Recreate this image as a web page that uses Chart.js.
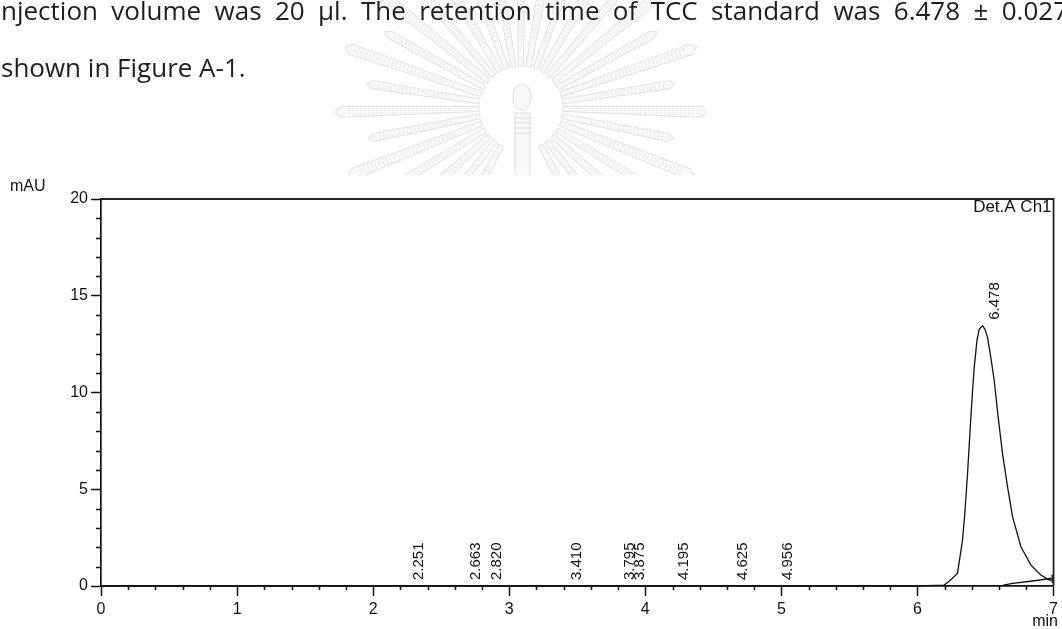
<!DOCTYPE html>
<html>
<head>
<meta charset="utf-8">
<script src="https://cdn.jsdelivr.net/npm/chart.js@4/dist/chart.umd.min.js"></script>
<style>
  html, body { margin: 0; padding: 0; background: #fff; }
  #wrap { width: 1062px; height: 629px; position: relative; }
  canvas { display: block; }
</style>
</head>
<body>
<div id="wrap"><canvas id="chromatogram" width="1062" height="629"></canvas></div>
<script>
// Chromatogram trace (time in min, signal in mAU)
const traceTime = [0, 1, 2, 3, 4, 5, 6, 6.196, 6.233, 6.294, 6.331, 6.348, 6.368, 6.388, 6.405, 6.417, 6.437, 6.454, 6.478,
                   6.495, 6.515, 6.539, 6.564, 6.593, 6.625, 6.662, 6.699, 6.760, 6.834, 6.907, 6.969, 7.0];
const traceSignal = [0, 0, 0, 0, 0, 0, 0, 0.05, 0.25, 0.65, 2.37, 3.75, 5.81, 8.21, 10.1, 11.3, 12.68, 13.28, 13.45,
                     13.28, 12.85, 11.82, 10.62, 8.73, 6.84, 5.12, 3.57, 2.03, 1.08, 0.57, 0.31, 0.3];

// Integration baseline under the tail of the main peak
const baseTime = [6.63, 6.70, 6.80, 6.90, 6.986];
const baseSignal = [0.05, 0.14, 0.22, 0.31, 0.4];

// Peak-end marker
const markTime = [6.99, 6.99];
const markSignal = [0.15, 0.6];

// Detected peaks: retention times and apex heights
const peakTimes = [2.251, 2.663, 2.820, 3.410, 3.795, 3.875, 4.195, 4.625, 4.956, 6.478];
const peakHeights = [0, 0, 0, 0, 0, 0, 0, 0, 0, 13.45];

// Axis ticks
const xTicks = [0, 1, 2, 3, 4, 5, 6, 7];
const yTicks = [0, 5, 10, 15, 20];

// Body text above the figure
const textLine1 = 'njection volume was 20 \u00b5l. The retention time of TCC standard was 6.478 \u00b1 0.027';
const textLine2 = 'shown in Figure A-1.';

const toPoints = (xs, ys) => xs.map((x, i) => ({ x: x, y: ys[i] }));

const INK = '#111';
const SANS = '"Liberation Sans", Arial, sans-serif';

// Justified line: spread words so the line spans from x0 to x1
function drawJustified(ctx, text, x0, x1, y) {
  const words = text.split(' ');
  const widths = words.map(w => ctx.measureText(w).width);
  const total = widths.reduce((a, b) => a + b, 0);
  const gap = (x1 - x0 - total) / (words.length - 1);
  let x = x0;
  words.forEach((w, i) => {
    ctx.fillText(w, x, y);
    x += widths[i] + gap;
  });
}

// Faint university emblem drawn behind the page text
function drawEmblem(ctx) {
  ctx.save();
  ctx.beginPath();
  ctx.rect(0, 0, 1062, 175);
  ctx.clip();
  const cx = 521, cy = 108;
  const n = 31;
  const a0 = 118, a1 = 422;
  for (let i = 0; i < n; i++) {
    const deg = a0 + (a1 - a0) * i / (n - 1);
    const a = deg * Math.PI / 180;
    const long = i % 2 === 0;
    const r0 = 42, r1 = long ? 180 : 150;
    const w0 = 2.5, w1 = long ? 5.5 : 4;
    const ux = Math.cos(a), uy = Math.sin(a);
    const px = -uy, py = ux;
    ctx.beginPath();
    ctx.moveTo(cx + ux * r0 + px * w0, cy + uy * r0 + py * w0);
    ctx.lineTo(cx + ux * r1 + px * w1, cy + uy * r1 + py * w1);
    ctx.lineTo(cx + ux * (r1 + 6), cy + uy * (r1 + 6));
    ctx.lineTo(cx + ux * r1 - px * w1, cy + uy * r1 - py * w1);
    ctx.lineTo(cx + ux * r0 - px * w0, cy + uy * r0 - py * w0);
    ctx.closePath();
    ctx.fillStyle = '#f8f8f8';
    ctx.fill();
    ctx.strokeStyle = '#e3e3e3';
    ctx.lineWidth = 1.1;
    ctx.stroke();
    // feather hatching along the ray
    ctx.strokeStyle = '#ececec';
    ctx.lineWidth = 1;
    for (let r = r0 + 30; r < r1 - 4; r += 4) {
      const t = (r - r0) / (r1 - r0);
      const w = w0 + (w1 - w0) * t - 1;
      ctx.beginPath();
      ctx.moveTo(cx + ux * r + px * w, cy + uy * r + py * w);
      ctx.lineTo(cx + ux * r - px * w, cy + uy * r - py * w);
      ctx.stroke();
    }
  }
  // stem
  ctx.fillStyle = '#f8f8f8';
  ctx.strokeStyle = '#e0e0e0';
  ctx.lineWidth = 1.1;
  ctx.beginPath();
  ctx.rect(515, 113, 15, 70);
  ctx.fill();
  ctx.stroke();
  for (let y = 118; y < 138; y += 5) {
    ctx.beginPath();
    ctx.moveTo(513, y);
    ctx.lineTo(532, y);
    ctx.stroke();
  }
  // orb
  ctx.beginPath();
  ctx.ellipse(522, 97, 9, 13, 0, 0, Math.PI * 2);
  ctx.fillStyle = '#f8f8f8';
  ctx.fill();
  ctx.stroke();
  ctx.restore();
}

const pagePlugin = {
  id: 'page',
  beforeDraw(chart) {
    const ctx = chart.ctx;
    ctx.save();
    ctx.fillStyle = '#fff';
    ctx.fillRect(0, 0, chart.width, chart.height);
    drawEmblem(ctx);
    ctx.fillStyle = '#1e1e1e';
    ctx.font = '26px "Open Sans", sans-serif';
    ctx.textAlign = 'left';
    ctx.textBaseline = 'alphabetic';
    drawJustified(ctx, textLine1, 1, 1068, 20);
    ctx.fillText(textLine2, 1, 77);
    ctx.restore();
  },
  afterDraw(chart) {
    const ctx = chart.ctx;
    const xs = chart.scales.x, ys = chart.scales.y;
    const area = chart.chartArea;
    ctx.save();
    ctx.strokeStyle = INK;
    ctx.lineWidth = 1.5;
    // minor ticks
    ctx.beginPath();
    for (let v = 0; v <= 20; v += 1) {
      if (v % 5 === 0) continue;
      const y = Math.round(ys.getPixelForValue(v)) + 0.5;
      ctx.moveTo(area.left - 5, y);
      ctx.lineTo(area.left, y);
    }
    for (let k = 0; k <= 35; k++) {
      if (k % 5 === 0) continue;
      const x = Math.round(xs.getPixelForValue(k * 0.2)) + 0.5;
      ctx.moveTo(x, area.bottom);
      ctx.lineTo(x, area.bottom + 4);
    }
    ctx.stroke();
    // frame top and right
    ctx.lineWidth = 1.8;
    ctx.strokeStyle = '#222';
    ctx.beginPath();
    ctx.moveTo(area.left, area.top);
    ctx.lineTo(area.right, area.top);
    ctx.lineTo(area.right, area.bottom);
    ctx.stroke();
    // unit labels
    ctx.fillStyle = INK;
    ctx.font = '16px ' + SANS;
    ctx.textAlign = 'left';
    ctx.textBaseline = 'middle';
    ctx.fillText('mAU', 10, 187);
    ctx.textAlign = 'right';
    ctx.fillText('min', 1058, 622);
    ctx.font = '17px ' + SANS;
    ctx.fillText('Det.A Ch1', area.right - 2, 207);
    // peak retention-time labels
    ctx.font = '15px ' + SANS;
    ctx.textAlign = 'left';
    ctx.textBaseline = 'middle';
    peakTimes.forEach((t, i) => {
      const x = xs.getPixelForValue(t) + 12;
      const y = ys.getPixelForValue(peakHeights[i]) - 6;
      ctx.save();
      ctx.translate(x, y);
      ctx.rotate(-Math.PI / 2);
      ctx.fillText(t.toFixed(3), 0, 0);
      ctx.restore();
    });
    ctx.restore();
  }
};

const lineStyle = { borderColor: INK, borderWidth: 1.3, pointRadius: 0, tension: 0, fill: false };

new Chart(document.getElementById('chromatogram'), {
  type: 'line',
  data: {
    datasets: [
      Object.assign({ label: 'Det.A Ch1', data: toPoints(traceTime, traceSignal) }, lineStyle),
      Object.assign({ label: 'baseline', data: toPoints(baseTime, baseSignal) }, lineStyle),
      Object.assign({ label: 'marker', data: toPoints(markTime, markSignal) }, lineStyle)
    ]
  },
  options: {
    responsive: false,
    devicePixelRatio: 1,
    animation: false,
    clip: false,
    layout: { padding: { left: 0, top: 199, right: 8, bottom: 0 } },
    plugins: { legend: { display: false }, tooltip: { enabled: false } },
    scales: {
      x: {
        type: 'linear',
        min: 0, max: 7,
        afterBuildTicks: s => { s.ticks = xTicks.map(v => ({ value: v })); },
        afterFit: s => { s.height = 43; },
        ticks: { color: INK, font: { family: SANS, size: 16 }, padding: 4, maxRotation: 0, autoSkip: false },
        grid: { drawOnChartArea: false, tickLength: 10, tickColor: INK, tickWidth: 1.5 },
        border: { color: INK, width: 1.7 }
      },
      y: {
        type: 'linear',
        min: 0, max: 20,
        afterBuildTicks: s => { s.ticks = yTicks.map(v => ({ value: v })); },
        afterFit: s => { s.width = 101; },
        ticks: { color: INK, font: { family: SANS, size: 16 }, padding: 3 },
        grid: { drawOnChartArea: false, tickLength: 10, tickColor: INK, tickWidth: 1.5 },
        border: { color: INK, width: 1.7 }
      }
    }
  },
  plugins: [pagePlugin]
});
</script>
</body>
</html>
